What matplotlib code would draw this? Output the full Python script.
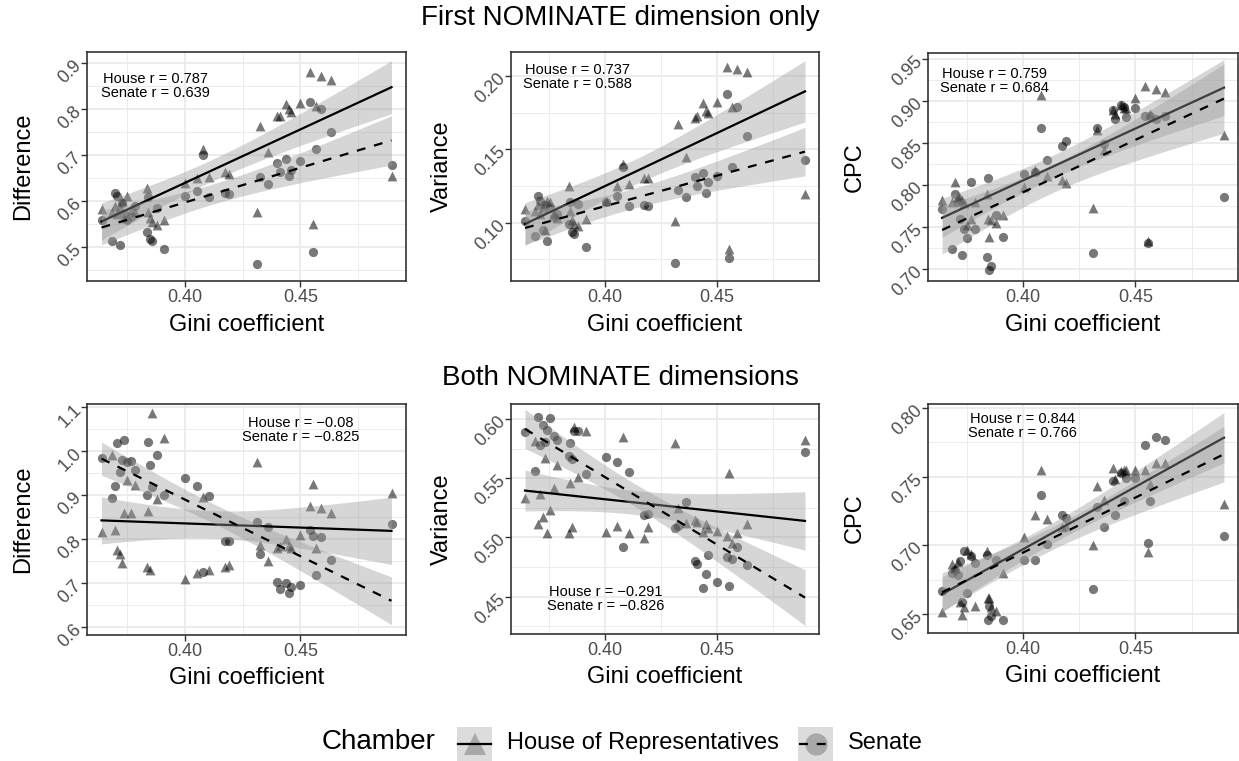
import numpy as np
import matplotlib
matplotlib.use("Agg")
import matplotlib.pyplot as plt
from matplotlib.patches import Rectangle

plt.rcParams['font.family'] = ['Liberation Sans', 'DejaVu Sans']

# Gini coefficient, one value per congress (shared by all panels)
gini = [0.3641, 0.3686, 0.3700, 0.3710, 0.3720, 0.3730, 0.3740, 0.3752, 0.3770, 0.3785,
        0.3839, 0.3843, 0.3850, 0.3860, 0.3880, 0.3912, 0.4003, 0.4054, 0.4080, 0.4105,
        0.4173, 0.4193, 0.4312, 0.4327, 0.4360, 0.4400, 0.4410, 0.4438, 0.4450, 0.4460,
        0.4500, 0.4543, 0.4555, 0.4565, 0.4590, 0.4632, 0.4893]

# first NOMINATE dimension only
dim1_diff_house = [0.582, 0.575, 0.590, 0.572, 0.586, 0.600, 0.562, 0.611, 0.580, 0.575,
                   0.628, 0.575, 0.562, 0.555, 0.547, 0.559, 0.639, 0.649, 0.714, 0.652,
                   0.663, 0.658, 0.576, 0.762, 0.707, 0.784, 0.784, 0.810, 0.799, 0.793,
                   0.813, 0.880, 0.551, 0.806, 0.871, 0.864, 0.654]
dim1_diff_senate = [0.559, 0.512, 0.618, 0.611, 0.504, 0.595, 0.572, 0.558, 0.565, 0.590,
                    0.533, 0.609, 0.518, 0.513, 0.585, 0.496, 0.610, 0.621, 0.699, 0.609,
                    0.618, 0.616, 0.462, 0.652, 0.636, 0.683, 0.663, 0.692, 0.654, 0.668,
                    0.687, 0.815, 0.488, 0.712, 0.799, 0.750, 0.679]

dim1_var_house = [0.1095, 0.108, 0.112, 0.106, 0.110, 0.0948, 0.115, 0.114, 0.106, 0.103,
                  0.125, 0.108, 0.102, 0.0993, 0.098, 0.1027, 0.115, 0.125, 0.140, 0.1266,
                  0.1307, 0.1307, 0.1011, 0.1675, 0.1448, 0.1716, 0.1725, 0.1818, 0.176, 0.175,
                  0.1823, 0.2061, 0.0823, 0.179, 0.205, 0.2027, 0.1198]
dim1_var_senate = [0.101, 0.0909, 0.118, 0.115, 0.0948, 0.112, 0.0875, 0.110, 0.104, 0.106,
                   0.0993, 0.114, 0.0936, 0.0925, 0.113, 0.0834, 0.114, 0.118, 0.138, 0.1114,
                   0.1118, 0.1111, 0.0727, 0.122, 0.1175, 0.1311, 0.125, 0.1339, 0.1205, 0.1277,
                   0.1318, 0.1875, 0.0759, 0.138, 0.179, 0.1589, 0.143]

dim1_cpc_house = [0.7825, 0.780, 0.8036, 0.786, 0.785, 0.782, 0.778, 0.752, 0.760, 0.780,
                  0.7897, 0.760, 0.738, 0.758, 0.755, 0.7647, 0.7976, 0.8175, 0.9067, 0.8103,
                  0.8056, 0.8024, 0.773, 0.865, 0.841, 0.889, 0.885, 0.8948, 0.892, 0.891,
                  0.903, 0.9175, 0.733, 0.885, 0.9147, 0.910, 0.859]
dim1_cpc_senate = [0.7718, 0.7234, 0.789, 0.780, 0.760, 0.7163, 0.748, 0.737, 0.8036, 0.747,
                   0.7143, 0.8083, 0.6992, 0.7032, 0.7647, 0.738, 0.8127, 0.8155, 0.8683, 0.8294,
                   0.846, 0.852, 0.719, 0.868, 0.849, 0.889, 0.878, 0.8948, 0.893, 0.881,
                   0.8917, 0.8817, 0.7313, 0.8817, 0.878, 0.8817, 0.7857]

# both NOMINATE dimensions
dim2_diff_house = [0.815, 0.991, 0.820, 0.775, 0.765, 0.745, 0.860, 0.935, 0.859, 0.922,
                   0.735, 0.863, 0.730, 1.088, 0.892, 1.031, 0.708, 0.723, 0.896, 0.730,
                   0.736, 0.740, 0.975, 0.786, 0.750, 0.780, 0.785, 0.800, 0.785, 0.780,
                   0.810, 0.875, 0.925, 0.780, 0.870, 0.860, 0.905]
dim2_diff_senate = [0.9856, 0.894, 0.921, 1.019, 0.953, 0.979, 1.025, 0.976, 0.977, 0.957,
                    0.901, 1.020, 0.968, 0.919, 0.991, 0.900, 0.938, 0.921, 0.725, 0.898,
                    0.795, 0.795, 0.839, 0.765, 0.828, 0.702, 0.687, 0.700, 0.676, 0.691,
                    0.695, 0.820, 0.807, 0.717, 0.805, 0.753, 0.834]

dim2_var_house = [0.533, 0.5814, 0.511, 0.537, 0.517, 0.567, 0.504, 0.523, 0.5415, 0.561,
                  0.504, 0.5457, 0.509, 0.5935, 0.551, 0.5899, 0.505, 0.510, 0.5845, 0.5035,
                  0.4992, 0.5085, 0.580, 0.525, 0.512, 0.515, 0.513, 0.505, 0.511, 0.508,
                  0.5057, 0.501, 0.5547, 0.495, 0.504, 0.511, 0.582]
dim2_var_senate = [0.5887, 0.556, 0.602, 0.578, 0.595, 0.581, 0.591, 0.601, 0.586, 0.582,
                   0.569, 0.580, 0.566, 0.590, 0.590, 0.554, 0.5676, 0.564, 0.4922, 0.555,
                   0.519, 0.520, 0.508, 0.510, 0.530, 0.480, 0.478, 0.457, 0.469, 0.485,
                   0.462, 0.4838, 0.459, 0.482, 0.492, 0.477, 0.5724]

dim2_cpc_house = [0.6515, 0.6866, 0.6834, 0.688, 0.659, 0.6495, 0.655, 0.6968, 0.694, 0.656,
                  0.6956, 0.662, 0.6616, 0.655, 0.652, 0.680, 0.706, 0.722, 0.755, 0.719,
                  0.713, 0.714, 0.700, 0.743, 0.733, 0.756, 0.748, 0.754, 0.755, 0.755,
                  0.755, 0.755, 0.695, 0.745, 0.760, 0.760, 0.730]
dim2_cpc_senate = [0.6665, 0.680, 0.6822, 0.6786, 0.6883, 0.6585, 0.6956, 0.6653, 0.6924, 0.687,
                   0.6931, 0.6454, 0.656, 0.6483, 0.6895, 0.6454, 0.689, 0.689, 0.737, 0.701,
                   0.722, 0.720, 0.668, 0.728, 0.713, 0.747, 0.722, 0.753, 0.732, 0.749,
                   0.749, 0.773, 0.702, 0.732, 0.779, 0.777, 0.707]

ylabels = ["Difference", "Variance", "CPC", "Difference", "Variance", "CPC"]
corr_labels = ["House r = 0.787\nSenate r = 0.639",
               "House r = 0.737\nSenate r = 0.588",
               "House r = 0.759\nSenate r = 0.684",
               "House r = \u22120.08\nSenate r = \u22120.825",
               "House r = \u22120.291\nSenate r = \u22120.826",
               "House r = 0.844\nSenate r = 0.766"]
yticks = [[0.5, 0.6, 0.7, 0.8, 0.9],
          [0.10, 0.15, 0.20],
          [0.70, 0.75, 0.80, 0.85, 0.90, 0.95],
          [0.6, 0.7, 0.8, 0.9, 1.0, 1.1],
          [0.45, 0.50, 0.55, 0.60],
          [0.65, 0.70, 0.75, 0.80]]
ytick_labels = [["0.5", "0.6", "0.7", "0.8", "0.9"],
                ["0.10", "0.15", "0.20"],
                ["0.70", "0.75", "0.80", "0.85", "0.90", "0.95"],
                ["0.6", "0.7", "0.8", "0.9", "1.0", "1.1"],
                ["0.45", "0.50", "0.55", "0.60"],
                ["0.65", "0.70", "0.75", "0.80"]]
xticks = [0.40, 0.45]
xtick_labels = ["0.40", "0.45"]
row_titles = ["First NOMINATE dimension only", "Both NOMINATE dimensions"]
legend_labels = ["House of Representatives", "Senate"]

house_series = [dim1_diff_house, dim1_var_house, dim1_cpc_house,
                dim2_diff_house, dim2_var_house, dim2_cpc_house]
senate_series = [dim1_diff_senate, dim1_var_senate, dim1_cpc_senate,
                 dim2_diff_senate, dim2_var_senate, dim2_cpc_senate]

# layout (pixels): left, top, right, bottom
W, H = 1239, 761
boxes = [(87, 52, 406, 281), (511, 52, 819, 281), (928, 53, 1238, 281),
         (87, 404, 406, 635), (511, 404, 819, 634), (928, 404, 1238, 633)]
ylims = [(0.426, 0.924), (0.0602, 0.2164), (0.6857, 0.957),
         (0.581, 1.1076), (0.4185, 0.6127), (0.6362, 0.8029)]
label_pos = [(0.3876, 0.85), (0.3876, 0.1993), (0.3874, 0.924),
             (0.450, 1.0487), (0.400, 0.448), (0.400, 0.7867)]
ylabel_x = [23, 442, 855]

GRID = "#EBEBEB"
BORDER = "#333333"
RIBBON = "#999999"


def smooth(ax, x, y, ls):
    x = np.asarray(x)
    y = np.asarray(y)
    n = len(x)
    b1, b0 = np.polyfit(x, y, 1)
    xs = np.linspace(x.min(), x.max(), 80)
    yhat = b0 + b1 * xs
    resid = y - (b0 + b1 * x)
    s = np.sqrt(np.sum(resid ** 2) / (n - 2))
    sxx = np.sum((x - x.mean()) ** 2)
    se = s * np.sqrt(1.0 / n + (xs - x.mean()) ** 2 / sxx)
    t = 2.03
    ax.fill_between(xs, yhat - t * se, yhat + t * se, color=RIBBON, alpha=0.4,
                    linewidth=0, zorder=3)
    ax.plot(xs, yhat, color="black", lw=1.6, linestyle=ls, zorder=3)


fig = plt.figure(figsize=(W / 100, H / 100), dpi=100)
fig.patch.set_facecolor("white")

x = np.asarray(gini)
xr = x.max() - x.min()
xlim = (x.min() - 0.05 * xr, x.max() + 0.05 * xr)

for i in range(6):
    l, t, r, b = boxes[i]
    ax = fig.add_axes([l / W, 1 - b / H, (r - l) / W, (b - t) / H])
    ax.set_xlim(xlim)
    ax.set_ylim(ylims[i])

    # theme_bw style grid
    ax.set_xticks(xticks)
    ax.set_xticklabels(xtick_labels)
    ax.set_xticks([0.375, 0.425, 0.475], minor=True)
    yt = yticks[i]
    step = yt[1] - yt[0]
    minors = [v - step / 2 for v in yt] + [yt[-1] + step / 2]
    minors = [v for v in minors if ylims[i][0] < v < ylims[i][1]]
    ax.set_yticks(yt)
    ax.set_yticklabels(ytick_labels[i], rotation=45, ha="right", va="center",
                       rotation_mode="anchor")
    ax.set_yticks(minors, minor=True)
    ax.grid(which="major", color=GRID, lw=1.3, zorder=0)
    ax.grid(which="minor", color=GRID, lw=0.65, zorder=0)
    ax.set_axisbelow(True)
    ax.tick_params(which="major", direction="out", length=4, width=1.0,
                   color=BORDER, labelcolor="#4D4D4D", labelsize=13, pad=2)
    ax.tick_params(which="minor", length=0)
    for sp in ax.spines.values():
        sp.set_color(BORDER)
        sp.set_linewidth(1.2)
        sp.set_zorder(5)

    ax.scatter(gini, house_series[i], marker="^", s=50, color="black", alpha=0.53,
               linewidths=0, zorder=2)
    ax.scatter(gini, senate_series[i], marker="o", s=44, color="black", alpha=0.53,
               linewidths=0, zorder=2)
    smooth(ax, gini, house_series[i], "-")
    smooth(ax, gini, senate_series[i], (0, (4, 4)))

    ax.text(label_pos[i][0], label_pos[i][1], corr_labels[i], ha="center", va="center",
            fontsize=10.5, linespacing=1.0, zorder=6)

    ax.set_xlabel("Gini coefficient", fontsize=17, va="baseline")
    ax.xaxis.set_label_coords(0.5, -(50 if i < 3 else 49) / (b - t))
    ax.set_ylabel(ylabels[i], fontsize=17, va="center")
    ax.yaxis.set_label_coords((ylabel_x[i % 3] - l) / (r - l), 0.5)

fig.text(620 / W, 1 - 25 / H, row_titles[0], ha="center", va="baseline", fontsize=20)
fig.text(620 / W, 1 - 385 / H, row_titles[1], ha="center", va="baseline", fontsize=20)

# legend drawn in pixel space along the bottom
lg = fig.add_axes([0, 0, 1, 1])
lg.set_xlim(0, W)
lg.set_ylim(H, 0)
lg.axis("off")
lg.patch.set_alpha(0)
lg.text(322, 749, "Chamber", fontsize=20, va="baseline", ha="left")
keys = [(457, "^", "-", legend_labels[0]), (798, "o", (0, (4, 4)), legend_labels[1])]
for kx, mk, ls, lab in keys:
    lg.add_patch(Rectangle((kx, 727), 35, 34, facecolor="#DCDCDC", edgecolor="none"))
    lg.plot([kx + 17.5], [744], marker=mk, markersize=16, color="#A8A8A8",
            markeredgewidth=0)
    lg.plot([kx + 1, kx + 34], [744, 744], color="black", lw=1.6, linestyle=ls)
    lg.text(kx + 50, 749, lab, fontsize=17, va="baseline", ha="left")

fig.savefig("out.png", dpi=100, facecolor="white")
